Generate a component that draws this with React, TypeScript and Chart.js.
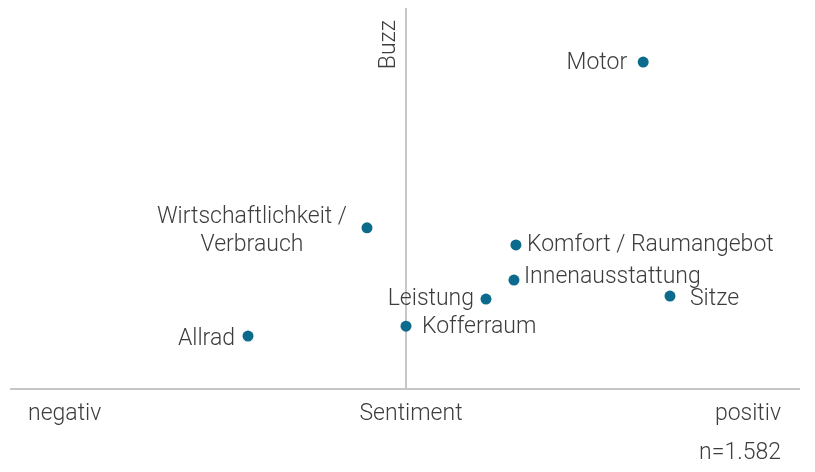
import React, { useEffect, useRef } from "react";
import { Chart, registerables } from "chart.js";

Chart.register(...registerables);

const categories: string[][] = [
  ["Motor"],
  ["Wirtschaftlichkeit /", "Verbrauch"],
  ["Komfort / Raumangebot"],
  ["Innenausstattung"],
  ["Leistung"],
  ["Sitze"],
  ["Kofferraum"],
  ["Allrad"],
];
const sentimentValues = [60.2, -9.9, 27.9, 27.4, 20.3, 67.0, 0.0, -40.1];
const buzzValues = [85.8, 42.3, 37.8, 28.6, 23.6, 24.4, 16.5, 13.9];

// label placement: side relative to point, horizontal gap and vertical shift (px)
const labelSide = ["left", "left", "right", "right", "left", "right", "right", "left"];
const labelGap = [16, 20, 11, 10, 12, 20, 16, 13];
const labelShift = [1, 3, 0, -3, 0, 3, 1, 3];

const xAxisLabels = ["negativ", "Sentiment", "positiv"];
const yAxisLabel = "Buzz";
const footnote = "n=1.582";

const FONT = "300 23px Roboto, 'Liberation Sans', Arial, sans-serif";
const TEXT_COLOR = "#3d3d3d";
const AXIS_COLOR = "#c6c6c6";
const POINT_COLOR = "#0c6a8d";

export default function App() {
  const ref = useRef<HTMLCanvasElement | null>(null);

  useEffect(() => {
    if (!ref.current) return;
    const overlay = {
      id: "overlay",
      beforeDatasetsDraw(chart: any) {
        const { ctx, chartArea, scales } = chart;
        const x0 = scales.x.getPixelForValue(0);
        const yBase = scales.y.getPixelForValue(0);
        ctx.save();
        ctx.strokeStyle = AXIS_COLOR;
        ctx.lineWidth = 2;
        ctx.beginPath();
        ctx.moveTo(x0, chartArea.top);
        ctx.lineTo(x0, yBase);
        ctx.moveTo(chartArea.left - 2, yBase);
        ctx.lineTo(chartArea.right, yBase);
        ctx.stroke();

        ctx.fillStyle = TEXT_COLOR;
        ctx.font = FONT;
        ctx.textBaseline = "middle";
        ctx.textAlign = "left";
        ctx.fillText(xAxisLabels[0], 28, yBase + 25);
        ctx.textAlign = "center";
        ctx.fillText(xAxisLabels[1], x0 + 5, yBase + 25);
        ctx.textAlign = "right";
        ctx.fillText(xAxisLabels[2], chartArea.right - 19, yBase + 25);
        ctx.fillText(footnote, chartArea.right - 19, yBase + 64);

        ctx.save();
        ctx.translate(x0 - 17, chartArea.top + 12);
        ctx.rotate(-Math.PI / 2);
        ctx.textAlign = "right";
        ctx.fillText(yAxisLabel, 0, 0);
        ctx.restore();
        ctx.restore();
      },
      afterDatasetsDraw(chart: any) {
        const { ctx, scales } = chart;
        ctx.save();
        ctx.fillStyle = TEXT_COLOR;
        ctx.font = FONT;
        ctx.textBaseline = "middle";
        const lh = 28;
        categories.forEach((lines, i) => {
          const px = scales.x.getPixelForValue(sentimentValues[i]);
          const py = scales.y.getPixelForValue(buzzValues[i]) + labelShift[i];
          const maxW = Math.max(...lines.map((l) => ctx.measureText(l).width));
          const cx =
            labelSide[i] === "left" ? px - labelGap[i] - maxW / 2 : px + labelGap[i] + maxW / 2;
          ctx.textAlign = "center";
          const startY = py - ((lines.length - 1) * lh) / 2;
          lines.forEach((l, j) => {
            ctx.fillText(l, cx, startY + j * lh);
          });
        });
        ctx.restore();
      },
    };

    const chart = new Chart(ref.current, {
      type: "scatter",
      data: {
        datasets: [
          {
            data: sentimentValues.map((v, i) => ({ x: v, y: buzzValues[i] })),
            backgroundColor: POINT_COLOR,
            borderColor: POINT_COLOR,
            pointRadius: 5.5,
            pointHoverRadius: 5.5,
            borderWidth: 0,
          },
        ],
      },
      options: {
        responsive: false,
        animation: false,
        layout: { padding: { left: 12, right: 15, top: 8, bottom: 83 } },
        plugins: { legend: { display: false }, tooltip: { enabled: false } },
        scales: {
          x: { type: "linear", min: -100, max: 100, display: false },
          y: { type: "linear", min: 0, max: 100, display: false },
        },
      },
      plugins: [overlay],
    });
    return () => chart.destroy();
  }, []);

  return (
    <div style={{ position: "absolute", left: 0, top: 0, width: 815, height: 472, background: "#fff" }}>
      <canvas ref={ref} width={815} height={472} />
    </div>
  );
}
